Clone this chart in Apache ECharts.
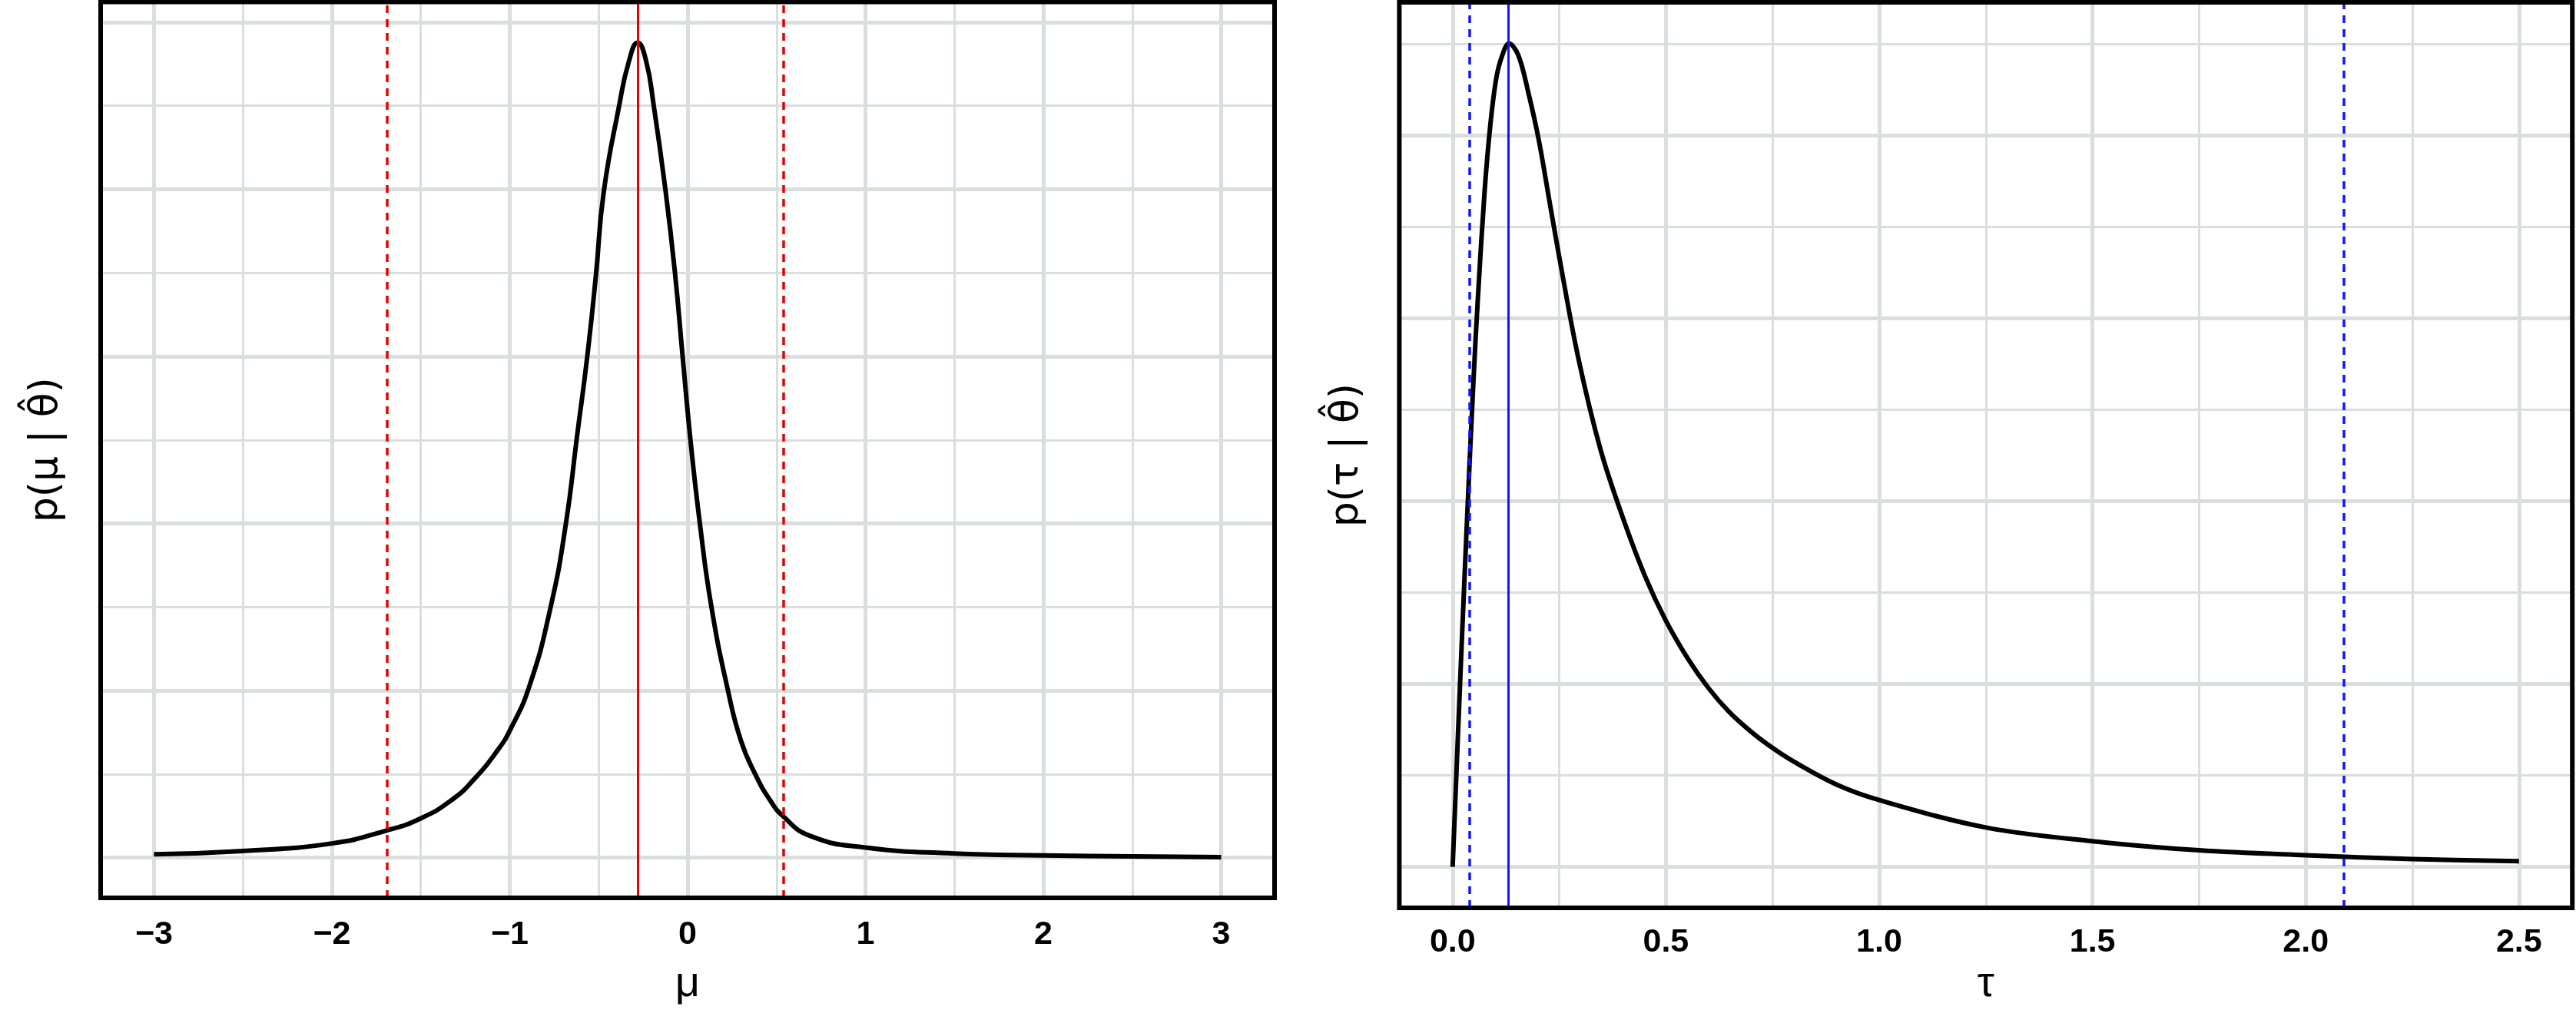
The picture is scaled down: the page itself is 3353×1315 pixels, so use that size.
<!DOCTYPE html>
<html>
<head>
<meta charset="utf-8">
<script src="https://cdn.jsdelivr.net/npm/echarts@6/dist/echarts.min.js"></script>
<style>
html,body{margin:0;padding:0;background:#fff;}
#chart{width:3353px;height:1315px;}
</style>
</head>
<body>
<div id="chart"></div>
<script>
// ---- data ----
const muGrid = [-3, -2.5, -2, -1.7, -1.5, -1.32, -1.2, -1.07, -1.0, -0.89, -0.77, -0.684, -0.623, -0.564, -0.515, -0.472, -0.384, -0.33, -0.281, -0.235, -0.191, -0.125, -0.071, -0.028, 0.016, 0.069, 0.134, 0.227, 0.30, 0.38, 0.46, 0.535, 0.69, 1.0, 1.5, 2.0, 2.5, 3.0];
const muDensity = [0.004, 0.008, 0.017, 0.032, 0.047, 0.070, 0.094, 0.128, 0.152, 0.205, 0.300, 0.400, 0.502, 0.600, 0.698, 0.796, 0.901, 0.953, 0.9755, 0.955, 0.901, 0.800, 0.700, 0.600, 0.500, 0.400, 0.300, 0.200, 0.140, 0.100, 0.070, 0.050, 0.026, 0.012, 0.005, 0.0027, 0.0015, 0.0006];

const tauGrid = [0, 0.02, 0.0347, 0.0484, 0.0588, 0.0748, 0.088, 0.102, 0.115, 0.132, 0.154, 0.178, 0.202, 0.226, 0.25, 0.294, 0.347, 0.399, 0.451, 0.499, 0.551, 0.599, 0.647, 0.699, 0.75, 0.8, 0.9, 1.0, 1.25, 1.5, 1.75, 2.0, 2.25, 2.5];
const tauDensity = [0.0, 0.23, 0.39, 0.528, 0.619, 0.738, 0.81, 0.862, 0.886, 0.9008, 0.888, 0.846, 0.795, 0.731, 0.667, 0.558, 0.456, 0.382, 0.318, 0.270, 0.228, 0.196, 0.170, 0.148, 0.130, 0.115, 0.090, 0.073, 0.043, 0.028, 0.018, 0.0126, 0.0085, 0.0062];

const muMode = -0.28;
const muInterval = [-1.69, 0.54];
const tauMode = 0.13;
const tauInterval = [0.04, 2.09];

const muTicks = [-3, -2, -1, 0, 1, 2, 3];
const muTickLabels = ['\u22123', '\u22122', '\u22121', '0', '1', '2', '3'];
const muMinor = [-2.5, -1.5, -0.5, 0.5, 1.5, 2.5];
const tauTicks = [0, 0.5, 1, 1.5, 2, 2.5];
const tauTickLabels = ['0.0', '0.5', '1.0', '1.5', '2.0', '2.5'];
const tauMinor = [0.25, 0.75, 1.25, 1.75, 2.25];
const muDensMajor = [0, 0.2, 0.4, 0.6, 0.8, 1.0];
const muDensMinor = [0.1, 0.3, 0.5, 0.7, 0.9];
const tauDensMajor = [0, 0.2, 0.4, 0.6, 0.8];
const tauDensMinor = [0.1, 0.3, 0.5, 0.7, 0.9];

// ---- styling ----
const FONT = "'Liberation Sans', Arial, 'DejaVu Sans', sans-serif";
const NAMEFONT = "'DejaVu Sans', 'Liberation Sans', sans-serif";
const GRIDCOL = '#d9dede';
const RED = '#e60000';
const BLUE = '#1414ff';

function expand(arr) {
  const lo = Math.min.apply(null, arr), hi = Math.max.apply(null, arr);
  const d = (hi - lo) * 0.05;
  return [lo - d, hi + d];
}
const muX = expand(muGrid), tauX = expand(tauGrid);
const muY = expand(muDensity), tauY = expand(tauDensity);

function gridLines(xMajor, xMinor, yMajor, yMinor) {
  const d = [];
  xMajor.forEach(v => d.push({xAxis: v, lineStyle: {width: 5, color: GRIDCOL, type: 'solid'}}));
  xMinor.forEach(v => d.push({xAxis: v, lineStyle: {width: 3, color: GRIDCOL, type: 'solid'}}));
  yMajor.forEach(v => d.push({yAxis: v, lineStyle: {width: 5, color: GRIDCOL, type: 'solid'}}));
  yMinor.forEach(v => d.push({yAxis: v, lineStyle: {width: 3, color: GRIDCOL, type: 'solid'}}));
  return d;
}

function xAxisCfg(idx, range, ticks, labels, name, margin, nameGap) {
  return {
    type: 'value', gridIndex: idx, min: range[0], max: range[1],
    axisLine: {show: false},
    axisTick: {show: true, customValues: ticks, length: 14, lineStyle: {color: '#000', width: 5}},
    axisLabel: {show: true, customValues: ticks, margin: margin, color: '#000', fontSize: 43, fontWeight: 'bold', fontFamily: FONT,
      formatter: v => { const i = ticks.findIndex(t => Math.abs(t - v) < 1e-9); return i >= 0 ? labels[i] : ''; }},
    splitLine: {show: false},
    name: name, nameLocation: 'middle', nameGap: nameGap,
    nameTextStyle: {fontSize: 56, color: '#000', fontFamily: FONT}
  };
}
function yAxisCfg(idx, range, name, nameGap) {
  return {
    type: 'value', gridIndex: idx, min: range[0], max: range[1],
    axisLine: {show: false}, axisTick: {show: false}, axisLabel: {show: false}, splitLine: {show: false},
    name: name, nameLocation: 'middle', nameGap: nameGap, nameRotate: 90,
    nameTextStyle: {fontSize: 52, color: '#000', fontFamily: NAMEFONT}
  };
}

function pairs(xs, ys) { return xs.map((x, i) => [x, ys[i]]); }

function vlines(mode, interval, color) {
  return [
    {xAxis: mode, lineStyle: {color: color, width: 3, type: 'solid'}},
    {xAxis: interval[0], lineStyle: {color: color, width: 3.5, type: [10, 8]}},
    {xAxis: interval[1], lineStyle: {color: color, width: 3.5, type: [10, 8]}}
  ];
}

const chart = echarts.init(document.getElementById('chart'), null, {renderer: 'canvas'});
chart.setOption({
  animation: false,
  backgroundColor: '#fff',
  grid: [
    {left: 131, top: 2.5, width: 1528, height: 1173.5, show: true, borderColor: '#000', borderWidth: 6, backgroundColor: 'transparent', z: 10},
    {left: 1821.4, top: 3, width: 1526.8, height: 1184, show: true, borderColor: '#000', borderWidth: 6, backgroundColor: 'transparent', z: 10}
  ],
  xAxis: [
    xAxisCfg(0, muX, muTicks, muTickLabels, 'μ', 27, 85),
    xAxisCfg(1, tauX, tauTicks, tauTickLabels, 'τ', 24, 70)
  ],
  yAxis: [
    yAxisCfg(0, muY, 'p(μ | θ\u0302)', 45),
    yAxisCfg(1, tauY, 'p(τ | θ\u0302)', 42)
  ],
  series: [
    {type: 'line', xAxisIndex: 0, yAxisIndex: 0, z: 1, silent: true, showSymbol: false,
      data: pairs(muGrid, muDensity), lineStyle: {opacity: 0, width: 0},
      markLine: {silent: true, symbol: ['none', 'none'], label: {show: false}, z: 1, animation: false,
        data: gridLines(muTicks, muMinor, muDensMajor, muDensMinor)}},
    {type: 'line', xAxisIndex: 1, yAxisIndex: 1, z: 1, silent: true, showSymbol: false,
      data: pairs(tauGrid, tauDensity), lineStyle: {opacity: 0, width: 0},
      markLine: {silent: true, symbol: ['none', 'none'], label: {show: false}, z: 1, animation: false,
        data: gridLines(tauTicks, tauMinor, tauDensMajor, tauDensMinor)}},
    {name: 'mu', type: 'line', xAxisIndex: 0, yAxisIndex: 0, z: 4, showSymbol: false, smooth: 0.5,
      data: pairs(muGrid, muDensity), lineStyle: {color: '#000', width: 6, cap: 'butt', join: 'round'},
      markLine: {silent: true, symbol: ['none', 'none'], label: {show: false}, z: 5, animation: false,
        data: vlines(muMode, muInterval, RED)}},
    {name: 'tau', type: 'line', xAxisIndex: 1, yAxisIndex: 1, z: 4, showSymbol: false, smooth: 0.35,
      data: pairs(tauGrid, tauDensity), lineStyle: {color: '#000', width: 6, cap: 'butt', join: 'round'},
      markLine: {silent: true, symbol: ['none', 'none'], label: {show: false}, z: 5, animation: false,
        data: vlines(tauMode, tauInterval, BLUE)}}
  ]
});
</script>
</body>
</html>
